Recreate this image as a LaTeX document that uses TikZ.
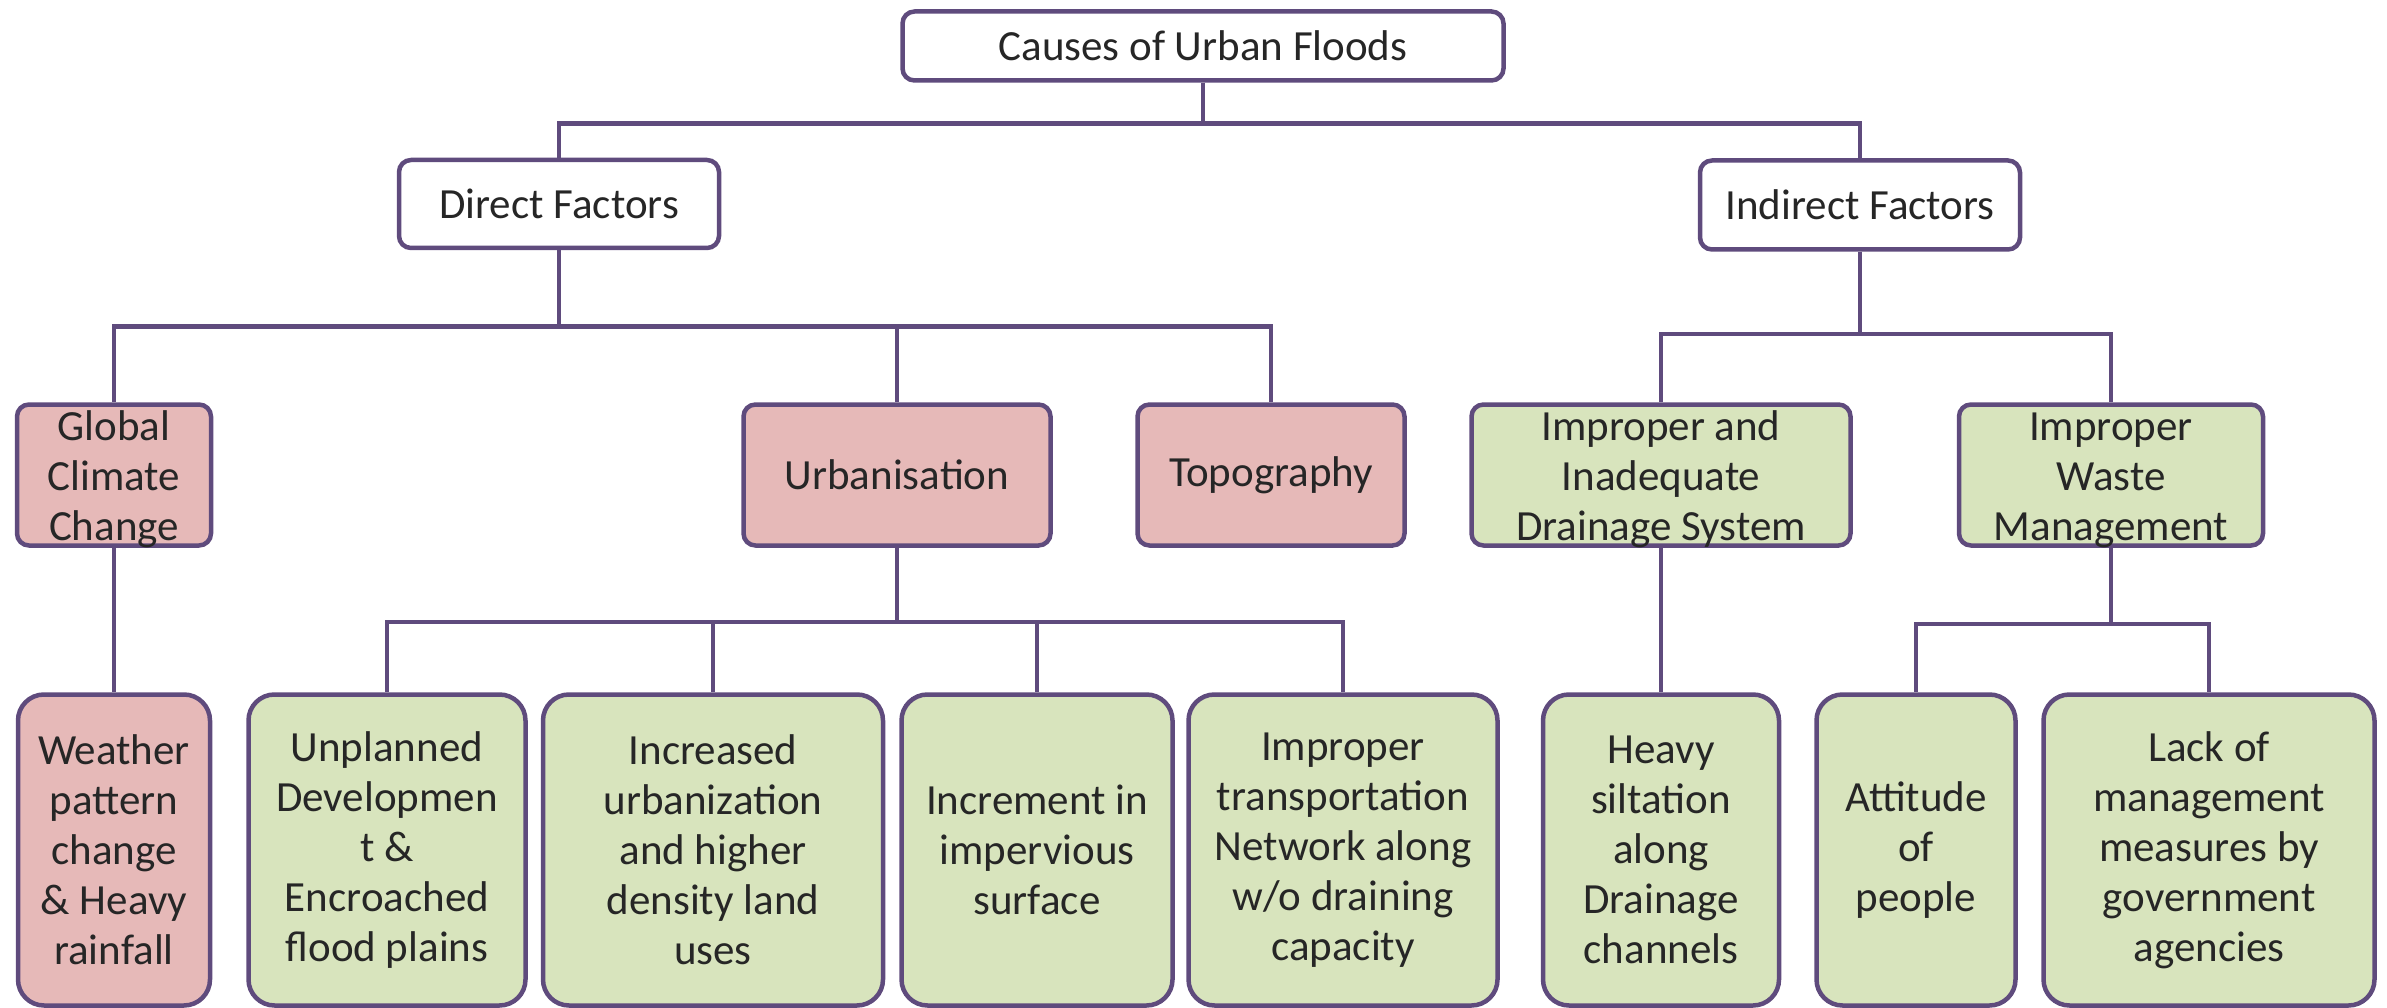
\documentclass[tikz,border=0pt]{standalone}
\usepackage{fontspec}
\setmainfont{Carlito}
\definecolor{bord}{HTML}{5F4B7D}
\definecolor{pinkf}{HTML}{E6B9B8}
\definecolor{greenf}{HTML}{D8E4BD}
\definecolor{txt}{HTML}{262626}
\tikzset{
  box/.style={draw=bord, line width=4.5pt, rounded corners=12pt, align=center,
    text=txt, inner sep=0pt, font=\fontsize{43}{50}\selectfont},
  topbox/.style={box, fill=white},
  pbox/.style={box, fill=pinkf},
  gbox/.style={box, fill=greenf},
  three/.style={text height=131pt, text depth=0pt},
  leaf/.style={rounded corners=26pt},
  conn/.style={draw=bord, line width=4.5pt}
}
\begin{document}
\begin{tikzpicture}[x=1pt,y=-1pt]
\useasboundingbox (0,0) rectangle (2387,1008);
% level 1
\node[topbox, minimum width=601pt, minimum height=69pt] (root) at (1203,46) {Causes of Urban Floods};
% level 2
\node[topbox, minimum width=320pt, minimum height=88pt] (direct) at (559,204) {Direct Factors};
\node[topbox, minimum width=320pt, minimum height=89pt] (indirect) at (1860,205) {Indirect Factors};
% level 3
\node[pbox, three, minimum width=194pt, minimum height=141pt] (gcc) at (114,475) {Global\\Climate\\Change};
\node[pbox, minimum width=307pt, minimum height=141pt] (urb) at (897,475) {Urbanisation};
\node[pbox, minimum width=267pt, minimum height=141pt] (topo) at (1271,475) {Topography};
\node[gbox, three, minimum width=379pt, minimum height=141pt] (drain) at (1661,475) {Improper and\\Inadequate\\Drainage System};
\node[gbox, three, minimum width=304pt, minimum height=141pt] (waste) at (2111,475) {Improper\\Waste\\Management};
% level 4
\node[pbox, leaf, minimum width=192pt, minimum height=311pt] (weather) at (114,850) {Weather\\pattern\\change\\\& Heavy\\rainfall};
\node[gbox, leaf, minimum width=277pt, minimum height=311pt] (unpl) at (387,850) {Unplanned\\Developmen\\t \&\\Encroached\\flood plains};
\node[gbox, leaf, minimum width=340pt, minimum height=311pt] (incr) at (713,850) {Increased\\urbanization\\and higher\\density land\\uses};
\node[gbox, leaf, minimum width=271pt, minimum height=311pt] (imperv) at (1037,850) {Increment in\\impervious\\surface};
\node[gbox, leaf, minimum width=309pt, minimum height=311pt] (transp) at (1343,850) {Improper\\transportation\\Network along\\w/o draining\\capacity};
\node[gbox, leaf, minimum width=236pt, minimum height=311pt] (silt) at (1661,850) {Heavy\\siltation\\along\\Drainage\\channels};
\node[gbox, leaf, minimum width=199pt, minimum height=311pt] (att) at (1916,850) {Attitude\\of\\people};
\node[gbox, leaf, minimum width=331pt, minimum height=311pt] (lack) at (2209,850) {Lack of\\management\\measures by\\government\\agencies};
% connectors
\draw[conn] (root.south) -- ++(0,41) -| (direct.north);
\draw[conn] (root.south) -- ++(0,41) -| (indirect.north);
\draw[conn] (direct.south) -- ++(0,76) -| (gcc.north);
\draw[conn] (direct.south) -- ++(0,76) -| (urb.north);
\draw[conn] (direct.south) -- ++(0,76) -| (topo.north);
\draw[conn] (indirect.south) -- ++(0,82) -| (drain.north);
\draw[conn] (indirect.south) -- ++(0,82) -| (waste.north);
\draw[conn] (gcc.south) -- (weather.north);
\draw[conn] (urb.south) -- ++(0,74) -| (unpl.north);
\draw[conn] (urb.south) -- ++(0,74) -| (incr.north);
\draw[conn] (urb.south) -- ++(0,74) -| (imperv.north);
\draw[conn] (urb.south) -- ++(0,74) -| (transp.north);
\draw[conn] (drain.south) -- (silt.north);
\draw[conn] (waste.south) -- ++(0,76) -| (att.north);
\draw[conn] (waste.south) -- ++(0,76) -| (lack.north);
\end{tikzpicture}
\end{document}
